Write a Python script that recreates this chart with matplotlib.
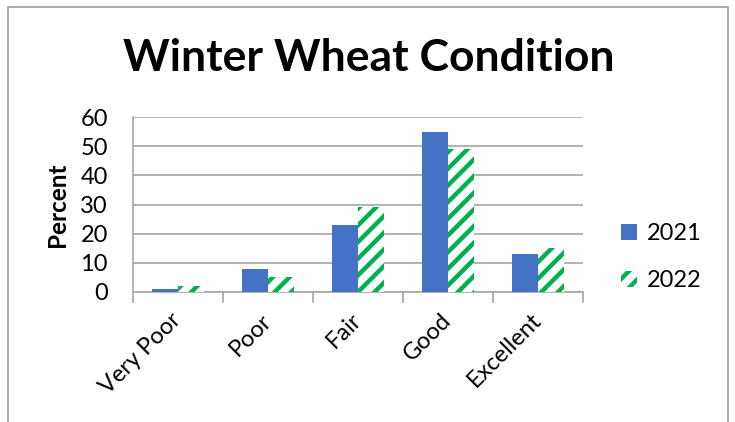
import numpy as np
import matplotlib
matplotlib.use('Agg')
import matplotlib.pyplot as plt
from matplotlib.patches import Rectangle
from matplotlib.transforms import ScaledTranslation

categories = ['Very Poor', 'Poor', 'Fair', 'Good', 'Excellent']
values_2021 = [1, 8, 23, 55, 13]
values_2022 = [2, 5, 29, 49, 15]
y_ticks = [0, 10, 20, 30, 40, 50, 60]

plt.rcParams['font.family'] = ['Lato', 'DejaVu Sans']
plt.rcParams['hatch.linewidth'] = 3.2

BLUE = '#4472C4'
GREEN = '#00B050'
GRID = '#A6A6A6'

fig = plt.figure(figsize=(7.35, 4.22), dpi=100)
W, H = 735, 422

# outer chart border (bottom edge runs off the image)
fig.patches.append(Rectangle((8 / W, -0.05), 720 / W, 1.05 - 7 / H,
                             transform=fig.transFigure, fill=False,
                             edgecolor='#A6A6A6', linewidth=1.3))

ax = fig.add_axes([133 / W, (H - 292) / H, 450 / W, 175 / H])

x = np.arange(len(categories))
bw = 0.285
ax.bar(x - bw / 2, values_2021, bw, color=BLUE, linewidth=0, label='2021', zorder=3)
ax.bar(x + bw / 2, values_2022, bw, color='white', edgecolor=GREEN, hatch='//',
       linewidth=0, label='2022', zorder=3)

ax.set_xlim(-0.5, len(categories) - 0.5)
ax.set_ylim(0, 60)
ax.set_yticks(y_ticks)
ax.yaxis.grid(True, color=GRID, linewidth=1.2, zorder=0)
ax.set_axisbelow(True)

ax.set_xticks(x)
ax.set_xticklabels(categories, rotation=45, ha='right', va='center',
                   rotation_mode='anchor', fontsize=17)
shift = ScaledTranslation(2 / 100, 0, fig.dpi_scale_trans)
for lbl in ax.get_xticklabels():
    lbl.set_transform(lbl.get_transform() + shift)
ax.set_xticks(np.arange(-0.5, len(categories)), minor=True)
ax.tick_params(axis='x', which='major', length=0, pad=18)
ax.tick_params(axis='x', which='minor', length=8, color=GRID, width=1.2)
ax.tick_params(axis='y', length=0, pad=18, labelsize=17)

for s in ['top', 'right']:
    ax.spines[s].set_visible(False)
for s in ['left', 'bottom']:
    ax.spines[s].set_color(GRID)
    ax.spines[s].set_linewidth(1.2)

ax.set_ylabel('Percent', fontsize=17.5, fontweight='bold', labelpad=8)

fig.text(369 / W, 1 - 58 / H, 'Winter Wheat Condition', ha='center', va='center',
         fontsize=32, fontweight='bold')

fig.legend(loc='center left', bbox_to_anchor=(600 / W, 1 - 257 / H), frameon=False,
           fontsize=17, handlelength=0.65, handleheight=0.65, handletextpad=0.45,
           labelspacing=1.1)

fig.savefig('out.png', dpi=100)
